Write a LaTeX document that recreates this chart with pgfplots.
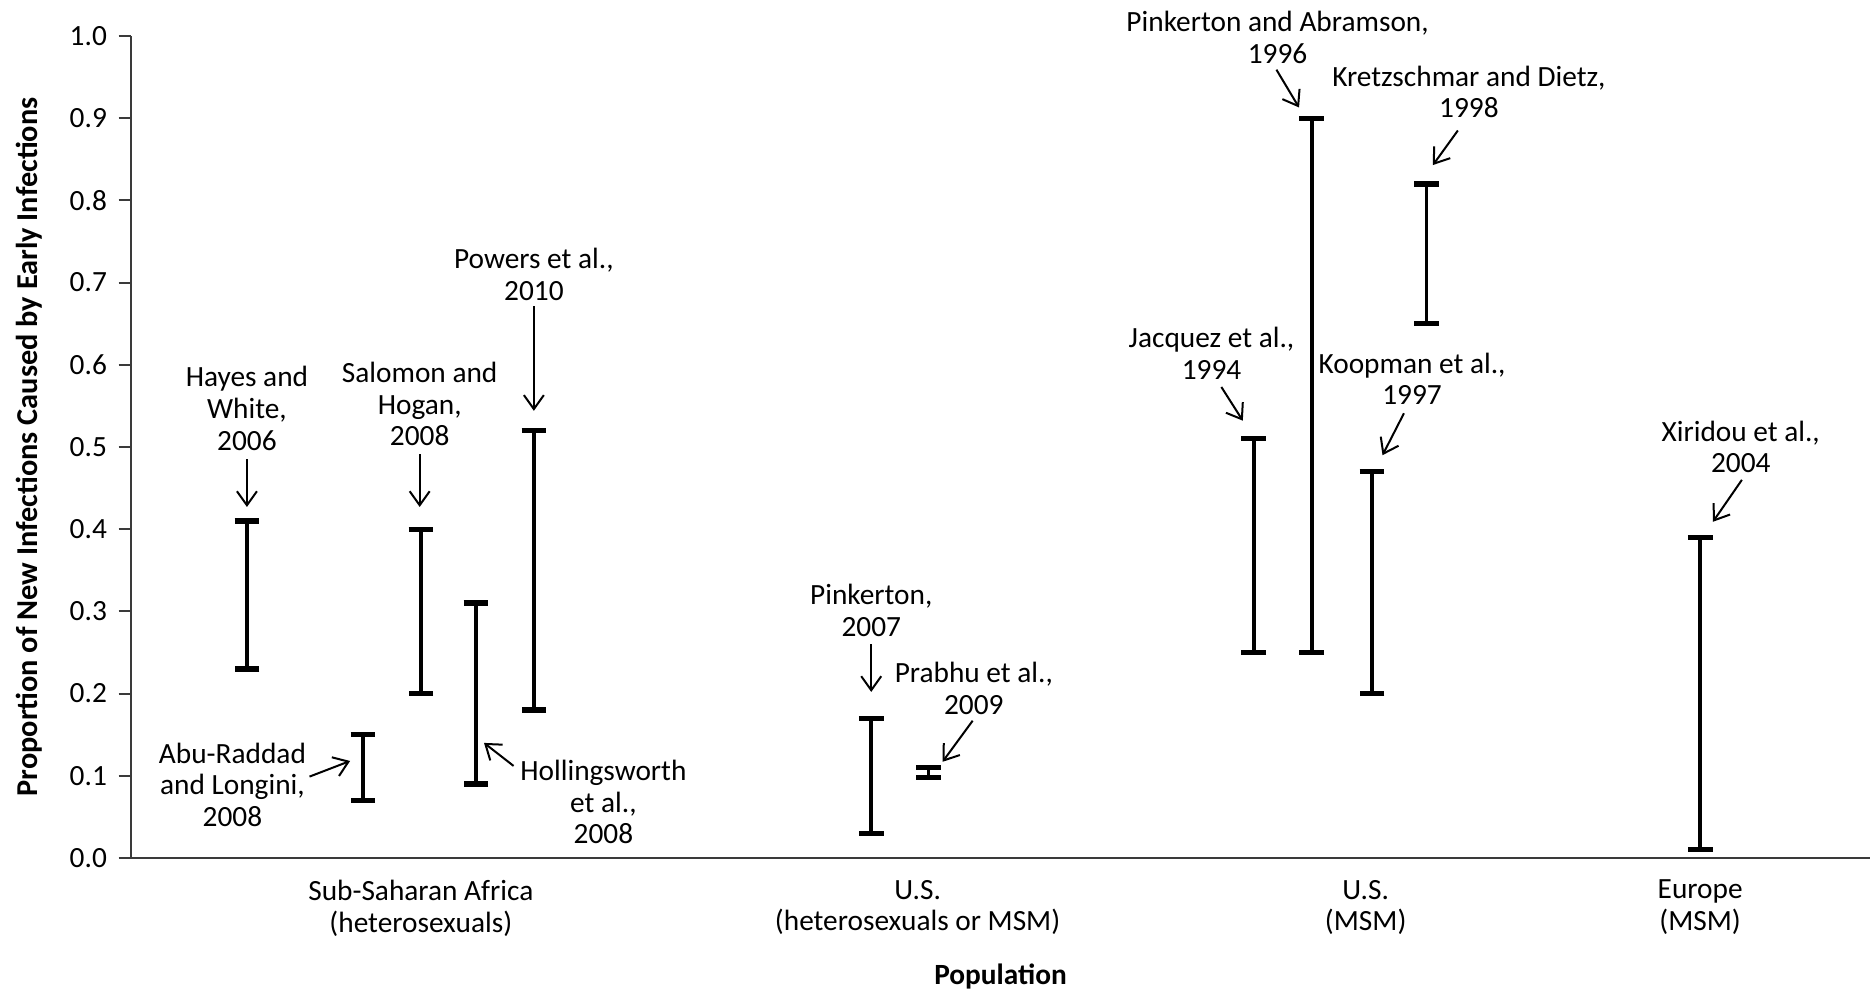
\documentclass[border=0pt]{standalone}
\usepackage{pgfplots}
\pgfplotsset{compat=1.18}
\usepackage{pgfplotstable}
\usepackage{fontspec}
\setmainfont{Carlito}
\usetikzlibrary{arrows.meta}

\definecolor{axisgray}{HTML}{3A3A3A}

% Range of the estimated proportion for each study: position, low, high
\pgfplotstableread{
x      lo     hi
2.00   0.23   0.41
4.00   0.07   0.15
5.00   0.20   0.40
5.95   0.09   0.31
6.95   0.18   0.52
12.77  0.03   0.17
13.76  0.098  0.110
19.37  0.25   0.51
20.37  0.25   0.90
21.41  0.20   0.47
22.35  0.65   0.82
27.07  0.01   0.39
}\studies

\newcommand{\lbl}{\fontsize{8.8}{9.5}\selectfont}

\begin{document}
\begin{tikzpicture}[
  note/.style={align=center, font=\lbl, inner sep=0pt},
  pointer/.style={-{Straight Barb[length=4.2pt,width=6pt]}, line width=0.6pt, black}]
\begin{axis}[
  name=ax,
  scale only axis,
  width=521.7pt, height=246.6pt,
  xmin=0, xmax=30, ymin=0, ymax=1,
  clip=false,
  axis lines=left,
  axis line style={-, draw=axisgray, line width=0.6pt},
  tick align=outside,
  major tick length=3.7pt,
  ytick={0,0.1,0.2,0.3,0.4,0.5,0.6,0.7,0.8,0.9,1.0},
  ytick style={draw=axisgray, line width=0.6pt},
  yticklabel style={/pgf/number format/.cd, fixed, fixed zerofill, precision=1, assume math mode=true},
  xtick={5.0,13.57,21.3,27.07},
  xticklabels={{Sub-Saharan Africa\\(heterosexuals)},{U.S.\\(heterosexuals or MSM)},{U.S.\\(MSM)},{Europe\\(MSM)}},
  xticklabel style={align=center, yshift=0.6pt},
  xtick style={draw=none},
  tick label style={font=\lbl},
  xlabel={Population},
  ylabel={Proportion of New Infections Caused by Early Infections},
  xlabel style={font=\lbl\bfseries, at={(axis description cs:0.5,-0.1436)}, anchor=center},
  ylabel style={font=\fontsize{9.1}{10}\selectfont\bfseries, at={(axis description cs:-0.0588,0.5)}, anchor=center},
]
\addplot[draw=none, mark=none,
  error bars/.cd,
    y dir=both, y explicit,
    error bar style={draw=black, line width=1.1pt},
    error mark options={draw=black, line width=1.6pt, mark size=3.7pt, rotate=90}]
  table[x=x, y expr=(\thisrow{lo}+\thisrow{hi})/2, y error expr=(\thisrow{hi}-\thisrow{lo})/2] {\studies};

% Study labels and pointers
\node[note] at (axis cs:2.0,0.547) {Hayes and\\White,\\2006};
\draw[pointer] (axis cs:2.0,0.485) -- (axis cs:2.0,0.427);

\node[note] at (axis cs:4.98,0.552) {Salomon and\\Hogan,\\2008};
\draw[pointer] (axis cs:4.98,0.491) -- (axis cs:4.98,0.427);

\node[note] at (axis cs:6.95,0.710) {Powers et al.,\\2010};
\draw[pointer] (axis cs:6.95,0.671) -- (axis cs:6.95,0.544);

\node[note] at (axis cs:1.75,0.089) {Abu-Raddad\\and Longini,\\2008};
\draw[pointer] (axis cs:3.08,0.099) -- (axis cs:3.78,0.118);

\node[note] at (axis cs:8.15,0.068) {Hollingsworth\\et al.,\\2008};
\draw[pointer] (axis cs:6.60,0.112) -- (axis cs:6.09,0.140);

\node[note] at (axis cs:12.77,0.301) {Pinkerton,\\2007};
\draw[pointer] (axis cs:12.77,0.260) -- (axis cs:12.77,0.202);

\node[note] at (axis cs:14.54,0.206) {Prabhu et al.,\\2009};
\draw[pointer] (axis cs:14.52,0.167) -- (axis cs:14.00,0.117);

\node[note] at (axis cs:19.78,0.9985) {Pinkerton and Abramson,\\1996};
\draw[pointer] (axis cs:19.76,0.959) -- (axis cs:20.15,0.913);

\node[note] at (axis cs:23.08,0.932) {Kretzschmar and Dietz,\\1998};
\draw[pointer] (axis cs:22.89,0.885) -- (axis cs:22.46,0.843);

\node[note] at (axis cs:18.64,0.614) {Jacquez et al.,\\1994};
\draw[pointer] (axis cs:18.81,0.573) -- (axis cs:19.18,0.532);

\node[note] at (axis cs:22.10,0.583) {Koopman et al.,\\1997};
\draw[pointer] (axis cs:21.96,0.541) -- (axis cs:21.59,0.490);

\node[note] at (axis cs:27.77,0.500) {Xiridou et al.,\\2004};
\draw[pointer] (axis cs:27.79,0.460) -- (axis cs:27.29,0.409);
\end{axis}
\pgfresetboundingbox
\path[use as bounding box] ([xshift=-39.3pt,yshift=-40.8pt]ax.south west) rectangle ([xshift=1.2pt,yshift=10.8pt]ax.north east);
\end{tikzpicture}
\end{document}
